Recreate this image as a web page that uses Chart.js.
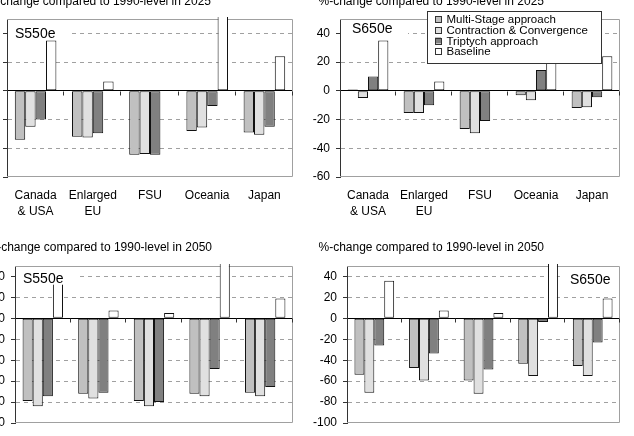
<!DOCTYPE html>
<html>
<head>
<meta charset="utf-8">
<script src="https://cdn.jsdelivr.net/npm/chart.js@4.4.1/dist/chart.umd.min.js"></script>
<style>
html,body{margin:0;padding:0;background:#fff;}
body{width:634px;height:436px;position:relative;overflow:hidden;}
canvas{position:absolute;display:block;}
</style>
</head>
<body>
<canvas id="c0"></canvas>
<canvas id="c1"></canvas>
<canvas id="c2"></canvas>
<canvas id="c3"></canvas>
<script>
// ---------- data ----------
const categories = [["Canada", "& USA"], ["Enlarged", "EU"], "FSU", "Oceania", "Japan"];
const seriesNames = ["Multi-Stage approach", "Contraction & Convergence", "Triptych approach", "Baseline"];
const titles = ["%-change compared to 1990-level in 2025", "%-change compared to 1990-level in 2050"];
const scenarioLabels = ["S550e", "S650e"];
const yTicks2025 = [-60, -40, -20, 0, 20, 40];
const yTicks2050 = [-100, -80, -60, -40, -20, 0, 20, 40];

// 2025, S550e
const ms550_2025 = [-34, -32, -44.5, -28, -29];
const cc550_2025 = [-25, -32.5, -44, -25.5, -30.5];
const tr550_2025 = [-20, -29.5, -44.5, -10.5, -25];
// 2025, S650e
const ms650_2025 = [1, -15.5, -26.5, -3, -12];
const cc650_2025 = [-5, -15.5, -29.5, -6.5, -11.5];
const tr650_2025 = [10, -10, -21, 14.5, -4.5];
// 2025 baseline
const base2025 = [35, 6.5, null, 80, 24];

// 2050, S550e
const ms550_2050 = [-79, -72, -79, -72, -71];
const cc550_2050 = [-84, -76.5, -84, -74.5, -74.5];
const tr550_2050 = [-74.5, -71, -80, -48.5, -65.5];
// 2050, S650e
const ms650_2050 = [-54, -47.5, -59.5, -43.5, -45.5];
const cc650_2050 = [-71, -59.5, -72, -55, -55];
const tr650_2050 = [-26, -33.5, -49, -3.5, -23];
// 2050 baseline
const base2050 = [36, 7.5, 5, 120, 19];

// ---------- styling ----------
const FONT = "'Liberation Sans', Arial, sans-serif";
const barColors = ["#c0c0c0", "#e0e0e0", "#808080", "#ffffff"];
Chart.defaults.font.family = FONT;
Chart.defaults.color = "#000";

const panelPlugin = {
  id: "panel",
  beforeDatasetsDraw(chart, args, o) {
    const {ctx, chartArea: a} = chart;
    ctx.save();
    ctx.strokeStyle = "#a0a0a0";
    ctx.lineWidth = 1;
    ctx.beginPath();
    ctx.moveTo(a.left, a.top + 0.5);
    ctx.lineTo(a.right - 0.5, a.top + 0.5);
    ctx.lineTo(a.right - 0.5, a.bottom - 0.5);
    ctx.lineTo(a.left, a.bottom - 0.5);
    ctx.stroke();
    ctx.restore();
  },
  afterDatasetsDraw(chart, args, o) {
    const {ctx, chartArea: a, scales: {x, y}} = chart;
    ctx.save();
    // small tick marks on the zero line between categories
    const y0 = Math.round(y.getPixelForValue(0)) + 0.5;
    const n = chart.data.labels.length;
    ctx.strokeStyle = "#333";
    ctx.lineWidth = 1;
    for (let i = 1; i <= n; i++) {
      const px = i < n ? (x.getPixelForValue(i - 1) + x.getPixelForValue(i)) / 2 : a.right;
      const xx = Math.round(px) - 0.5;
      ctx.beginPath();
      ctx.moveTo(xx, y0);
      ctx.lineTo(xx, y0 + 4);
      ctx.stroke();
    }
    // title
    ctx.fillStyle = "#000";
    ctx.textAlign = "left";
    ctx.textBaseline = "alphabetic";
    ctx.font = "12px " + FONT;
    ctx.fillText(o.title, a.left + o.titleDx, a.top + o.titleDy);
    // scenario label with white box
    ctx.fillStyle = "#fff";
    ctx.fillRect(a.left + o.box[0], a.top + o.box[1], o.box[2], o.box[3]);
    ctx.fillStyle = "#000";
    ctx.font = "14px " + FONT;
    ctx.fillText(o.label, a.left + o.labelDx, a.top + o.labelDy);
    // legend
    if (o.legend) {
      const L = o.legend;
      const bx = a.left + L.x, by = a.top + L.y;
      ctx.fillStyle = "#fff";
      ctx.fillRect(bx, by, L.w, L.h);
      ctx.strokeStyle = "#333";
      ctx.strokeRect(Math.round(bx) + 0.5, Math.round(by) + 0.5, L.w, L.h);
      ctx.font = "11.5px " + FONT;
      chart.data.datasets.forEach((ds, i) => {
        const base = by + L.first + i * L.step;
        ctx.fillStyle = ds.backgroundColor;
        ctx.fillRect(bx + 8, base - 7, 6, 6);
        ctx.strokeStyle = "#333";
        ctx.strokeRect(Math.round(bx + 8) + 0.5, Math.round(base - 7) + 0.5, 6, 6);
        ctx.fillStyle = "#000";
        ctx.fillText(ds.label, bx + 19.5, base);
      });
    }
    ctx.restore();
  }
};

function makePanel(id, geom, ticks, series, opts) {
  const W = (geom.R - geom.L) + 70, H = (geom.B - geom.T) + 80;
  const cv = document.getElementById(id);
  cv.width = W; cv.height = H;
  cv.style.width = W + "px"; cv.style.height = H + "px";
  cv.style.left = (geom.L - 60) + "px";
  cv.style.top = (geom.T - 30) + "px";
  const yMin = ticks[0];
  new Chart(cv, {
    type: "bar",
    data: {
      labels: categories,
      datasets: series.map((d, i) => ({
        label: seriesNames[i],
        data: d,
        backgroundColor: barColors[i],
        borderColor: "#111",
        borderWidth: 1,
        borderSkipped: false,
        barPercentage: 1,
        categoryPercentage: 0.727,
        clip: {left: 0, top: 2, right: 0, bottom: 0}
      }))
    },
    options: {
      responsive: false,
      animation: false,
      devicePixelRatio: 1,
      layout: {padding: {left: 10, top: 30, right: 10, bottom: 10}},
      plugins: {
        legend: {display: false},
        tooltip: {enabled: false},
        panel: opts
      },
      scales: {
        x: {
          offset: true,
          grid: {display: false, drawTicks: false, tickLength: 0},
          border: {display: false},
          ticks: {font: {size: 12, lineHeight: 1.333}, padding: 11, maxRotation: 0, autoSkip: false, color: "#000"},
          afterFit: s => { s.height = 40; }
        },
        y: {
          min: yMin,
          max: 50,
          afterBuildTicks: s => { s.ticks = ticks.map(v => ({value: v})); },
          afterFit: s => { s.width = 50; },
          ticks: {font: {size: 12}, padding: 6, color: "#000"},
          grid: {
            color: c => (c.tick && c.tick.value === 0) ? "#000" : ((c.tick && c.tick.value === yMin) ? "rgba(0,0,0,0)" : "#a0a0a0"),
            lineWidth: 1,
            drawTicks: true,
            tickLength: 4,
            tickColor: "#333"
          },
          border: {
            display: true,
            color: "#333",
            width: 1,
            dash: c => (c.tick && c.tick.value !== 0) ? [4, 4] : []
          }
        }
      }
    },
    plugins: [panelPlugin]
  });
}

makePanel("c0", {L: 7, R: 293, T: 19, B: 177}, yTicks2025,
  [ms550_2025, cc550_2025, tr550_2025, base2025],
  {title: titles[0], titleDx: -21.5, titleDy: -13.7, label: scenarioLabels[0], labelDx: 8, labelDy: 18.5, box: [1, 7, 60, 13]});

makePanel("c1", {L: 340, R: 620, T: 19, B: 177}, yTicks2025,
  [ms650_2025, cc650_2025, tr650_2025, base2025],
  {title: titles[0], titleDx: -21.5, titleDy: -13.7, label: scenarioLabels[1], labelDx: 12, labelDy: 14.3, box: [1, 2, 67, 18],
   legend: {x: 87, y: -8, w: 174, h: 52, first: 12.3, step: 10.6}});

makePanel("c2", {L: 15, R: 293, T: 266, B: 423}, yTicks2050,
  [ms550_2050, cc550_2050, tr550_2050, base2050],
  {title: titles[1], titleDx: -28.5, titleDy: -14.7, label: scenarioLabels[0], labelDx: 8, labelDy: 17, box: [1, 2, 62, 16.7]});

makePanel("c3", {L: 347, R: 620, T: 266, B: 423}, yTicks2050,
  [ms650_2050, cc650_2050, tr650_2050, base2050],
  {title: titles[1], titleDx: -28.5, titleDy: -14.7, label: scenarioLabels[1], labelDx: 223, labelDy: 17.7, box: [215, 2, 57, 17]});
</script>
</body>
</html>
